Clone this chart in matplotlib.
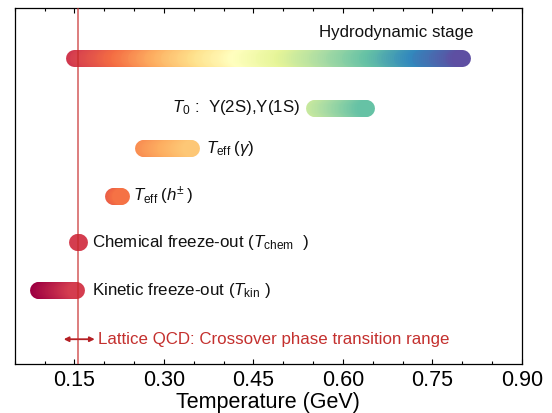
import numpy as np
import matplotlib
matplotlib.use("Agg")
import matplotlib.pyplot as plt
from matplotlib.collections import LineCollection

plt.rcParams['font.family'] = ['Liberation Sans', 'DejaVu Sans']
plt.rcParams['mathtext.fontset'] = 'custom'
plt.rcParams['mathtext.rm'] = 'Liberation Sans'
plt.rcParams['mathtext.it'] = 'Liberation Sans:italic'
plt.rcParams['mathtext.bf'] = 'Liberation Sans:bold'

# ---- data ----
stages = ["Hydrodynamic stage", "T0", "Teff_gamma", "Teff_h", "Chemical", "Kinetic"]
t_low = [0.15, 0.552, 0.265, 0.215, 0.1545, 0.0895]
t_high = [0.80, 0.638, 0.345, 0.228, 0.1575, 0.153]
labels = [
    "Hydrodynamic stage",
    r"$T_0$ :  Υ(2S),Υ(1S)",
    r"$T_{\rm eff}\;(\gamma)$",
    r"$T_{\rm eff}\;(h^{\pm}\,)$",
    r"Chemical freeze-out ($T_{\rm chem}$  )",
    r"Kinetic freeze-out ($T_{\rm kin}$ )",
]
tc_lattice = 0.156
lattice_range = [0.132, 0.184]
lattice_label = "Lattice QCD: Crossover phase transition range"
xticks = [0.15, 0.30, 0.45, 0.60, 0.75, 0.90]
xtick_labels = ["0.15", "0.30", "0.45", "0.60", "0.75", "0.90"]

# ---- style ----
rows = [7.0, 5.93, 5.06, 4.05, 3.05, 2.03]
lattice_row = 0.98
# colormap anchors per bar: (fractions along bar, colormap values)
cmap_anchors = [
    ([0.0, 0.425, 1.0], [0.09, 0.5, 1.0]),
    ([0.0, 1.0], [0.65, 0.80]),
    ([0.0, 1.0], [0.25, 0.35]),
    ([0.0, 1.0], [0.17, 0.21]),
    ([0.0, 1.0], [0.10, 0.10]),
    ([0.0, 1.0], [0.0, 0.10]),
]
cmap = plt.get_cmap('Spectral')
bar_lw = 12.2

fig = plt.figure(figsize=(5.52, 4.13), dpi=100)
ax = fig.add_axes([0.0268, 0.1186, 0.9186, 0.8611])

for i in range(len(stages)):
    x0, x1 = t_low[i], t_high[i]
    fr, cv = cmap_anchors[i]
    n = 200
    xs = np.linspace(x0, x1, n + 1)
    segs = [[(xs[k], rows[i]), (xs[k + 1], rows[i])] for k in range(n)]
    f = (np.arange(n) + 0.5) / n
    cols = cmap(np.interp(f, fr, cv))
    lc = LineCollection(segs, colors=cols, linewidths=bar_lw, capstyle='round', zorder=2)
    ax.add_collection(lc)

# labels
fs = 12.2
ax.text(0.819, 7.53, labels[0], ha='right', va='center', fontsize=fs, color='#111111')
ax.text(0.529, rows[1], labels[1], ha='right', va='center', fontsize=fs, color='#111111')
ax.text(0.370, rows[2], labels[2], ha='left', va='center', fontsize=fs, color='#111111')
ax.text(0.248, rows[3], labels[3], ha='left', va='center', fontsize=fs, color='#111111')
ax.text(0.180, rows[4], labels[4], ha='left', va='center', fontsize=fs, color='#111111')
ax.text(0.180, rows[5], labels[5], ha='left', va='center', fontsize=fs, color='#111111')

# lattice
ax.annotate("", xy=(lattice_range[0], lattice_row), xytext=(lattice_range[1], lattice_row),
            arrowprops=dict(arrowstyle='<|-|>', color='#b52025', lw=1.3,
                            mutation_scale=7, shrinkA=0, shrinkB=0), zorder=4)
ax.text(0.190, lattice_row, lattice_label, ha='left', va='center', fontsize=fs, color='#c4302e')

ax.axvline(tc_lattice, color='#c62828', alpha=0.7, lw=1.2, zorder=5)

ax.set_xlim(0.05, 0.90)
ax.set_ylim(0.45, 8.05)
ax.set_xticks(xticks)
ax.set_xticklabels(xtick_labels)
ax.set_xticks(np.arange(0.05, 0.901, 0.05), minor=True)
ax.set_yticks([])
ax.tick_params(axis='x', which='both', direction='in', top=True, bottom=True, labelsize=15.5, pad=4)
ax.tick_params(axis='x', which='major', length=3.5, width=0.8)
ax.tick_params(axis='x', which='minor', length=2, width=0.8)
for s in ax.spines.values():
    s.set_linewidth(0.9)
ax.set_xlabel("Temperature (GeV)", fontsize=15.5, labelpad=1)

fig.savefig("out.png", dpi=100)
